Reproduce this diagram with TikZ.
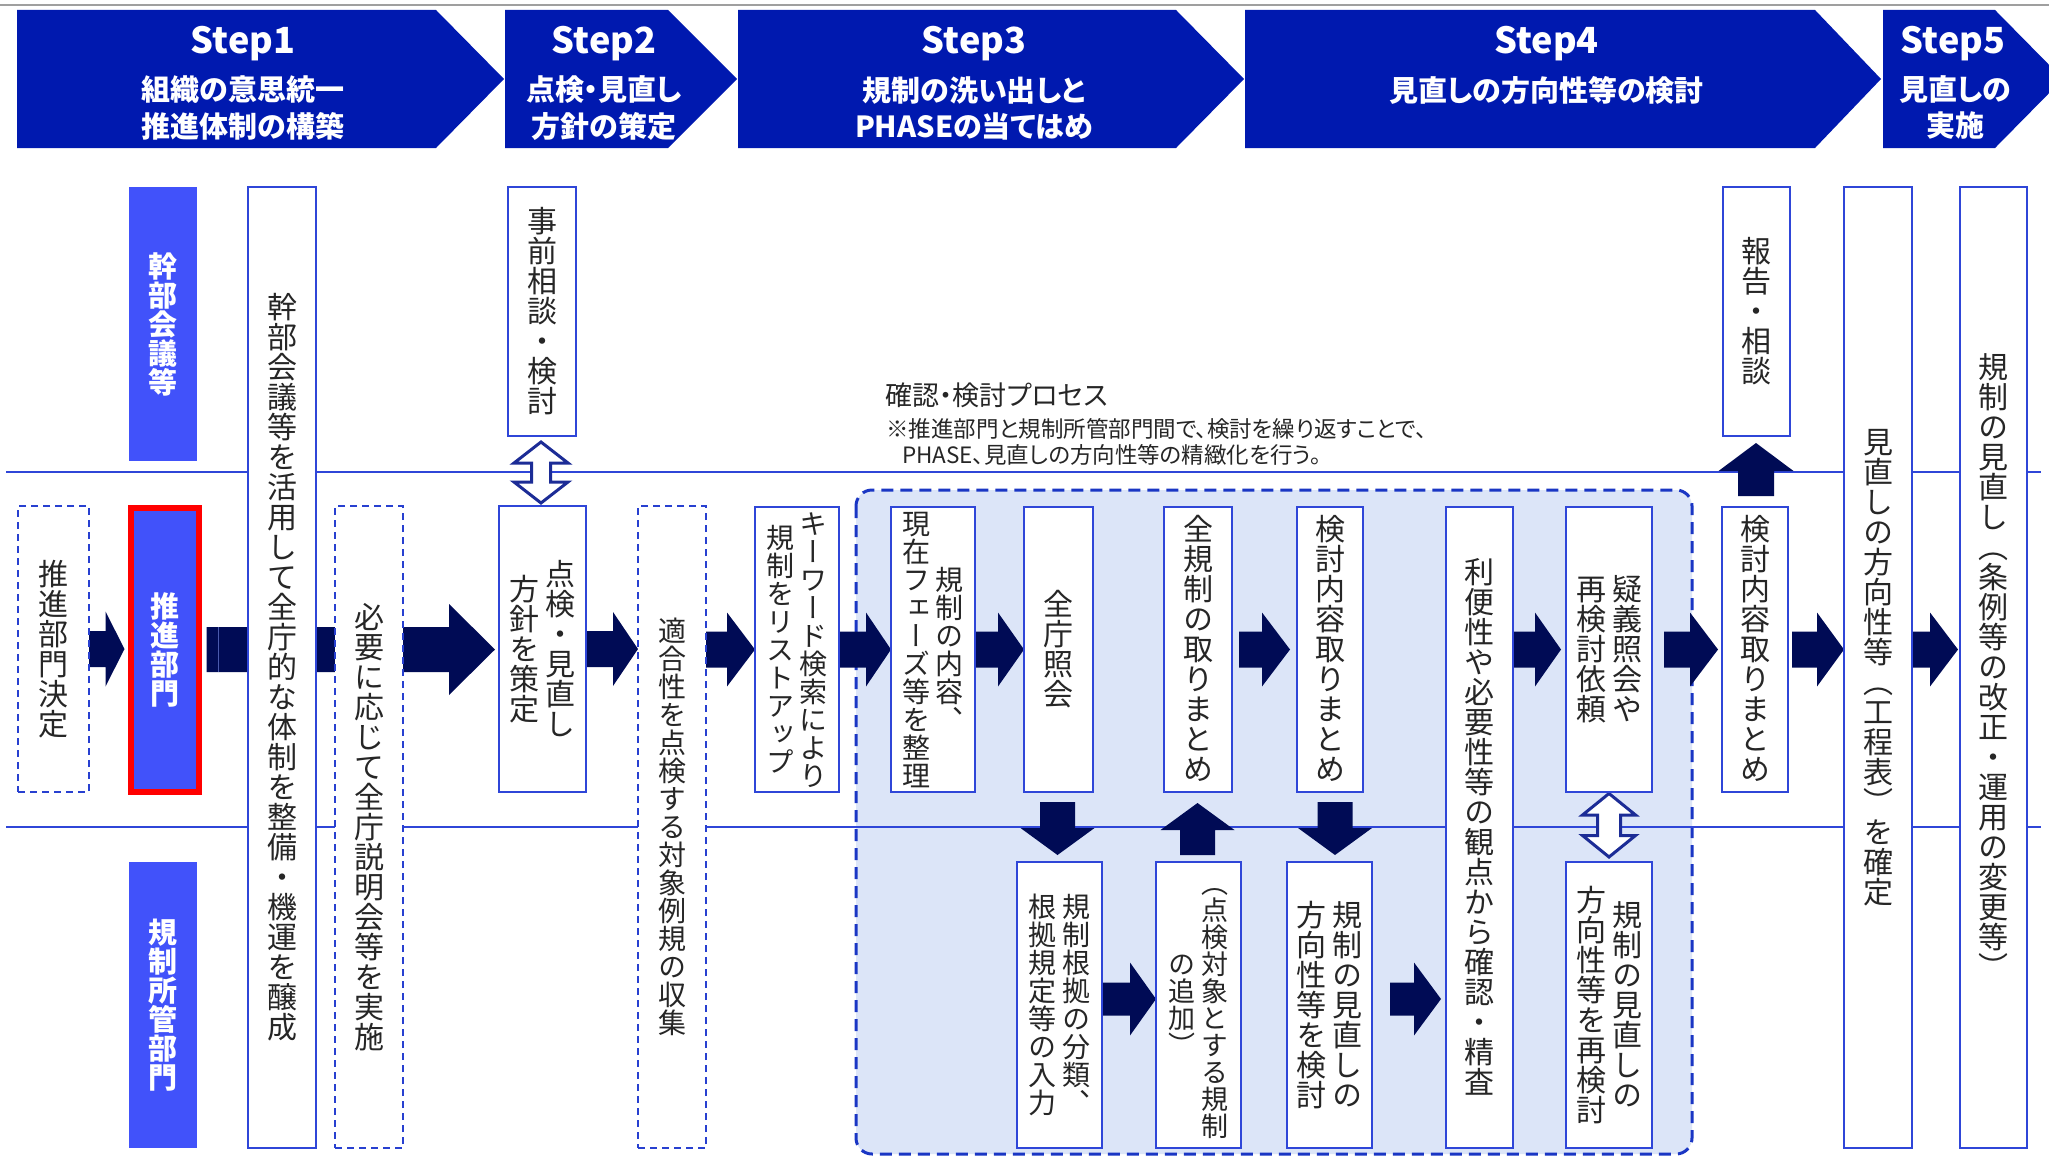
\documentclass[tikz,border=0pt]{standalone}
\usepackage{fontspec}
\usetikzlibrary{calc}
\newfontfamily\tate[RawFeature=+vert]{Noto Sans CJK JP}
\newfontfamily\jpp[RawFeature=+palt]{Noto Sans CJK JP}
\definecolor{hdrblue}{HTML}{0019AF}
\definecolor{lanefill}{HTML}{4152FA}
\definecolor{boxblue}{HTML}{2F46D8}
\definecolor{lineblue}{HTML}{2F46D8}
\definecolor{dashblue}{HTML}{2840D0}
\definecolor{arrowfill}{HTML}{000B55}
\definecolor{hollowline}{HTML}{1C2C96}
\definecolor{regionfill}{HTML}{DCE5F8}
\definecolor{regionline}{HTML}{1A36C4}
\definecolor{txtgray}{HTML}{262626}
\definecolor{seam}{HTML}{4A5AAE}
\pgfdeclarelayer{back}
\pgfdeclarelayer{mid}
\pgfsetlayers{back,mid,main}
% vertical text helpers
\newcommand\tcell[1]{\hbox to 1em{\vrule width 0pt height .88em depth .12em\hss\smash{#1}\hss}}
\def\tloop#1{\ifx\relax#1\else\tcell{#1}\expandafter\tloop\fi}
\newcommand\tcol[1]{\vbox{\offinterlineskip\tloop#1\relax}}
\newcommand\tcols[2]{\hbox{$\vcenter{\tcol{#2}}$\kern.2em$\vcenter{\tcol{#1}}$}}
% block arrows
\newcommand\rarr[5]{\fill[arrowfill] ($(#1)+(0,-#4)$) -- ($(#2|-#1)+(-#3,-#4)$) -- ($(#2|-#1)+(-#3,-#5)$) -- (#2|-#1) -- ($(#2|-#1)+(-#3,#5)$) -- ($(#2|-#1)+(-#3,#4)$) -- ($(#1)+(0,#4)$) -- cycle;}
\newcommand\darr[5]{\fill[arrowfill] ($(#1)+(-#4,0)$) -- ($(#1|-#2)+(-#4,-#3)$) -- ($(#1|-#2)+(-#5,-#3)$) -- (#1|-#2) -- ($(#1|-#2)+(#5,-#3)$) -- ($(#1|-#2)+(#4,-#3)$) -- ($(#1)+(#4,0)$) -- cycle;}
\newcommand\uarr[5]{\fill[arrowfill] ($(#1)+(-#4,0)$) -- ($(#1|-#2)+(-#4,#3)$) -- ($(#1|-#2)+(-#5,#3)$) -- (#1|-#2) -- ($(#1|-#2)+(#5,#3)$) -- ($(#1|-#2)+(#4,#3)$) -- ($(#1)+(#4,0)$) -- cycle;}
\newcommand\dblarr[5]{\filldraw[hollow] (#1) -- ($(#1)+(#5,#3)$) -- ($(#1)+(#4,#3)$) -- ($(#1|-#2)+(#4,-#3)$) -- ($(#1|-#2)+(#5,-#3)$) -- (#1|-#2) -- ($(#1|-#2)+(-#5,-#3)$) -- ($(#1|-#2)+(-#4,-#3)$) -- ($(#1)+(-#4,#3)$) -- ($(#1)+(-#5,#3)$) -- cycle;}
\tikzset{
  wbox/.style={draw=boxblue, fill=white, line width=2, inner sep=0pt, outer sep=0pt, text=txtgray, font=\tate\fontsize{30}{30}\selectfont},
  dbox/.style={wbox, draw=dashblue, dash pattern=on 7pt off 5pt},
  fsa/.style={font=\tate\fontsize{28}{28}\selectfont},
  fsb/.style={font=\tate\fontsize{27}{27}\selectfont},
  lane/.style={fill=lanefill, inner sep=0pt, outer sep=0pt, text=white, font=\tate\bfseries\fontsize{29}{29}\selectfont},
  stepf/.style={text=white, inner sep=0pt, font=\jpp\bfseries\fontsize{36}{36}\selectfont},
  hdrf/.style={text=white, inner sep=0pt, font=\jpp\bfseries\fontsize{29}{29}\selectfont},
  capa/.style={text=txtgray, inner sep=0pt, anchor=west, font=\jpp\fontsize{27}{27}\selectfont},
  capb/.style={text=txtgray, inner sep=0pt, anchor=west, font=\jpp\fontsize{22.5}{22.5}\selectfont},
  hollow/.style={fill=white, draw=hollowline, line width=3, line join=miter},
  laneline/.style={draw=lineblue, line width=2},
}
\begin{document}
\begin{tikzpicture}[x=1pt,y=-1pt]
\useasboundingbox (0,0) rectangle (2049,1156);
\clip (0,0) rectangle (2049,1156);
% top rule
\draw[gray!75, line width=2.5] (0,5) -- (2049,5);
% header chevrons
\fill[hdrblue] (17,10) -- (436,10) -- (504,79) -- (436,148) -- (17,148) -- cycle;
\fill[hdrblue] (505,10) -- (668,10) -- (737,79) -- (668,148) -- (505,148) -- cycle;
\fill[hdrblue] (738,10) -- (1176,10) -- (1244,79) -- (1176,148) -- (738,148) -- cycle;
\fill[hdrblue] (1245,10) -- (1815,10) -- (1881,79) -- (1815,148) -- (1245,148) -- cycle;
\fill[hdrblue] (1883,10) -- (1995,10) -- (2063,79) -- (1995,148) -- (1883,148) -- cycle;
\node[stepf, anchor=base] (s1) at (243,53) {Step1};
\node[hdrf] (s1a) at (243,90) {組織の意思統一};
\node[hdrf] (s1b) at (243,126) {推進体制の構築};
\node[stepf, anchor=base] (s2) at (604,53) {Step2};
\node[hdrf] (s2a) at (604,90) {点検・見直し};
\node[hdrf] (s2b) at (604,126) {方針の策定};
\node[stepf, anchor=base] (s3) at (974,53) {Step3};
\node[hdrf] (s3a) at (974,90) {規制の洗い出しと};
\node[hdrf] (s3b) at (974,126) {PHASEの当てはめ};
\node[stepf, anchor=base] (s4) at (1546.5,53) {Step4};
\node[hdrf] (s4a) at (1546.5,90) {見直しの方向性等の検討};
\node[stepf, anchor=base] (s5) at (1953,53) {Step5};
\node[hdrf] (s5a) at (1955,90) {見直しの};
\node[hdrf] (s5b) at (1955,126) {実施};
% caption
\node[capa] (c1) at (885,395) {確認・検討プロセス};
\node[capb] (c2) at (886,429) {※推進部門と規制所管部門間で、検討を繰り返すことで、};
\node[capb] (c3) at (902,455) {PHASE、見直しの方向性等の精緻化を行う。};
% lane labels
\node[lane, minimum width=68, minimum height=274] (l1) at (163,324) {\tcol{幹部会議等}};
\node[lane, draw=red, line width=6, minimum width=68, minimum height=284] (l2) at (164.5,649.5) {\tcol{推進部門}};
\node[lane, minimum width=68, minimum height=286] (l3) at (163,1005) {\tcol{規制所管部門}};
% boxes
\node[dbox, minimum width=71, minimum height=286] (b1) at (53.5,649) {\tcol{推進部門決定}};
\node[wbox, minimum width=68, minimum height=961] (b2) at (282,667.5) {\tcol{幹部会議等を活用して全庁的な体制を整備・機運を醸成}};
\node[dbox, minimum width=68, minimum height=642] (b3) at (369,827) {\tcol{必要に応じて全庁説明会等を実施}};
\node[wbox, minimum width=68, minimum height=249] (b4) at (542,311.5) {\tcol{事前相談・検討}};
\node[wbox, minimum width=87, minimum height=286] (b5) at (542.5,649) {\tcols{点検・見直し}{方針を策定}};
\node[dbox, fsa, minimum width=68, minimum height=642] (b6) at (672,827) {\tcol{適合性を点検する対象例規の収集}};
\node[wbox, fsa, minimum width=84, minimum height=285] (b7) at (797,649.5) {\tcols{キーワード検索により}{規制をリストアップ}};
\node[wbox, fsa, minimum width=84, minimum height=285] (b8) at (933,649.5) {\tcols{規制の内容、}{現在フェーズ等を整理}};
\node[wbox, minimum width=69, minimum height=285] (b9) at (1058.5,649.5) {\tcol{全庁照会}};
\node[wbox, minimum width=68, minimum height=285] (b10) at (1198,649.5) {\tcol{全規制の取りまとめ}};
\node[wbox, minimum width=66, minimum height=285] (b11) at (1330,649.5) {\tcol{検討内容取りまとめ}};
\node[wbox, minimum width=67, minimum height=641] (b12) at (1479.5,827.5) {\tcol{利便性や必要性等の観点から確認・精査}};
\node[wbox, minimum width=86, minimum height=285] (b13) at (1609,649.5) {\tcols{疑義照会や}{再検討依頼}};
\node[wbox, minimum width=67, minimum height=249] (b14) at (1756.5,311.5) {\tcol{報告・相談}};
\node[wbox, minimum width=66, minimum height=285] (b15) at (1755,649.5) {\tcol{検討内容取りまとめ}};
\node[wbox, minimum width=68, minimum height=961] (b16) at (1878,667.5) {\tcol{見直しの方向性等（工程表）を確定}};
\node[wbox, minimum width=67, minimum height=961] (b17) at (1993.5,667.5) {\tcol{規制の見直し（条例等の改正・運用の変更等）}};
\node[wbox, fsa, minimum width=85, minimum height=286] (b18) at (1059.5,1005) {\tcols{規制根拠の分類、}{根拠規定等の入力}};
\node[wbox, fsb, minimum width=85, minimum height=286] (b19) at (1198.5,1005) {\tcols{（点検対象とする規制}{の追加）}};
\node[wbox, minimum width=85, minimum height=286] (b20) at (1329.5,1005) {\tcols{規制の見直しの}{方向性等を検討}};
\node[wbox, minimum width=86, minimum height=286] (b21) at (1609,1005) {\tcols{規制の見直しの}{方向性等を再検討}};
% background: region and lane lines
\begin{pgfonlayer}{back}
\fill[white] (0,0) rectangle (2049,1156);
\filldraw[fill=regionfill, draw=regionline, line width=3, dash pattern=on 12pt off 7pt, rounded corners=16] (856,490) rectangle (1692,1154);
\draw[laneline] (6,472) -- (2041,472);
\draw[laneline] (6,827) -- (2041,827);
\end{pgfonlayer}
% connectors
\coordinate (a1e) at ($(l2.west)+(-6,0)$);
\coordinate (a2s) at ($(l2.east)+(8,0)$);
\coordinate (a2e) at ($(b5.west)+(-4,0)$);
\coordinate (a4s) at (b6.east|-b7.west);
\coordinate (a7s) at ($(b10.east)+(7,0)$);
\coordinate (a7e) at ($(b11.west)+(-7,0)$);
\coordinate (a8s) at (b12.east|-b13.west);
\coordinate (a8e) at ($(b13.west)+(-5,0)$);
\coordinate (a9s) at ($(b13.east)+(12,0)$);
\coordinate (a9e) at ($(b15.west)+(-4,0)$);
\coordinate (a10s) at ($(b15.east)+(4,0)$);
\coordinate (a11s) at (b16.east|-b15.east);
\coordinate (a11e) at ($(b17.west)+(-2,0)$);
\coordinate (a12s) at ($(b18.east)+(1,-6)$);
\coordinate (a13s) at ($(b20.east)+(18,-6)$);
\coordinate (a13e) at ($(b12.west)+(-5,0)$);
\coordinate (d1s) at ($(b9.south)+(-1,10)$);
\coordinate (d1e) at ($(b18.north)+(0,-7)$);
\coordinate (u1s) at ($(b19.north)+(-1,-7)$);
\coordinate (u1e) at ($(b10.south)+(0,11)$);
\coordinate (d2s) at ($(b11.south)+(5,10)$);
\coordinate (d2e) at ($(b20.north)+(5,-7)$);
\coordinate (u2s) at ($(b15.north)+(1,-11)$);
\coordinate (u2e) at ($(b14.south)+(0,7)$);
\coordinate (h1s) at ($(b4.south)+(-1,6)$);
\coordinate (h1e) at ($(b5.north)+(0,-3)$);
\coordinate (h2s) at ($(b13.south)+(0,1.5)$);
\coordinate (h2e) at ($(b21.north)+(0,-5)$);
\begin{pgfonlayer}{mid}
\rarr{b1.east}{a1e}{19}{18}{37.5}
\rarr{a2s}{a2e}{46}{22.5}{45.5}
\draw[seam, line width=1.5] ($(a2s)+(12,-22.5)$) -- ($(a2s)+(12,22.5)$);
\rarr{b5.east}{b6.west}{25}{18}{37}
\rarr{a4s}{b7.west}{28}{18}{37}
\rarr{b7.east}{b8.west}{25}{18}{37}
\rarr{b8.east}{b9.west}{26}{18}{37}
\rarr{a7s}{a7e}{28}{18}{37}
\rarr{a8s}{a8e}{26}{18}{37}
\rarr{a9s}{a9e}{28}{18}{37}
\rarr{a10s}{b16.west}{27}{18}{37}
\rarr{a11s}{a11e}{28}{18}{37}
\rarr{a12s}{b19.west}{26}{16.5}{36.5}
\rarr{a13s}{a13e}{27}{16.5}{36.5}
\darr{d1s}{d1e}{27}{17.5}{37}
\uarr{u1s}{u1e}{27}{17.5}{37}
\darr{d2s}{d2e}{27}{17.5}{37}
\uarr{u2s}{u2e}{28}{18}{37.5}
\dblarr{h1s}{h1e}{21}{9.5}{27}
\dblarr{h2s}{h2e}{21.5}{11.5}{26.5}
\end{pgfonlayer}
\end{tikzpicture}
\end{document}
